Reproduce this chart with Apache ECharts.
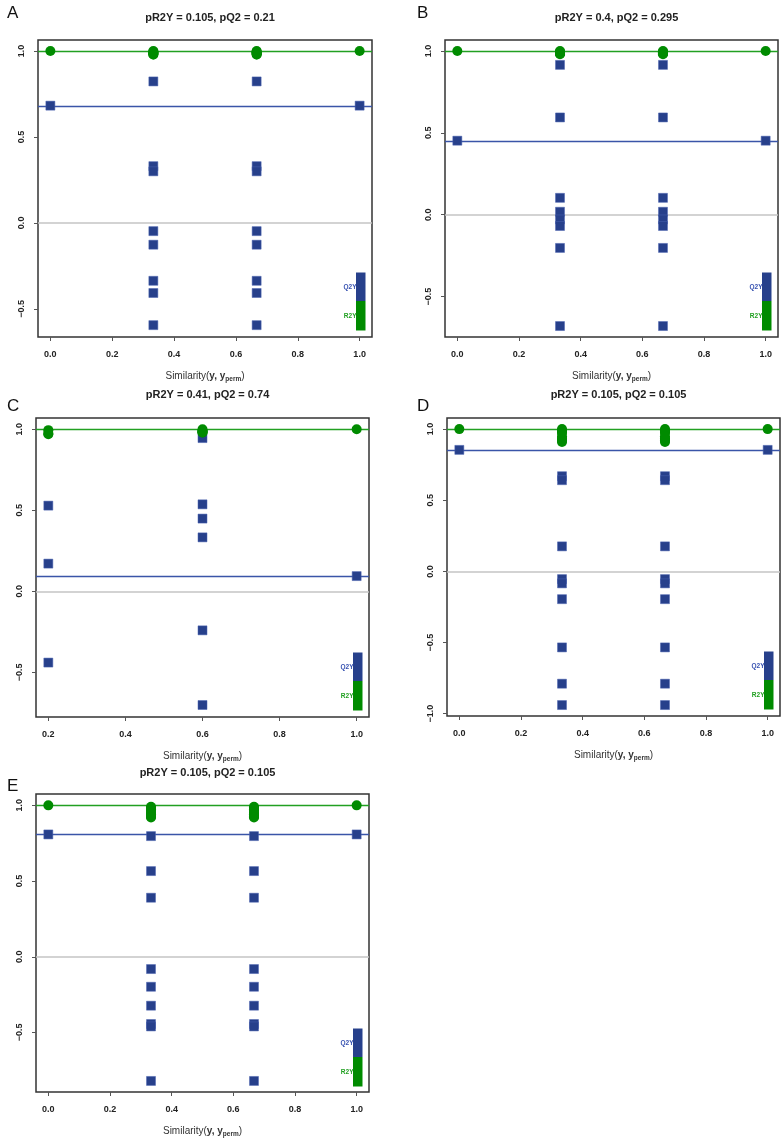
<!DOCTYPE html>
<html><head><meta charset="utf-8">
<script src="https://cdn.jsdelivr.net/npm/echarts@6/dist/echarts.min.js"></script>
<style>html,body{margin:0;padding:0;background:#fff}#c{width:783px;height:1139px}</style>
</head><body><div id="c"></div>
<script>
// ---------- data ----------
const panelLetters = ['A', 'B', 'C', 'D', 'E'];
const titles = ['pR2Y = 0.105, pQ2 = 0.21', 'pR2Y = 0.4, pQ2 = 0.295', 'pR2Y = 0.41, pQ2 = 0.74',
                'pR2Y = 0.105, pQ2 = 0.105', 'pR2Y = 0.105, pQ2 = 0.105'];

// Panel A (first element = original model)
const simA = [1, 0, 0.333, 0.333, 0.333, 0.333, 0.333, 0.333, 0.333, 0.333, 0.667, 0.667, 0.667, 0.667, 0.667, 0.667, 0.667, 0.667];
const r2yA = [1.0, 1.0, 0.99, 0.98, 0.995, 0.985, 0.99, 1.0, 0.98, 0.99, 0.99, 0.98, 0.995, 0.985, 0.99, 1.0, 0.98, 0.99];
const q2yA = [0.682, 0.682, 0.823, 0.33, 0.30, -0.048, -0.127, -0.337, -0.408, -0.595, 0.823, 0.33, 0.30, -0.048, -0.127, -0.337, -0.408, -0.595];

// Panel B
const simB = [1, 0, 0.333, 0.333, 0.333, 0.333, 0.333, 0.333, 0.333, 0.333, 0.667, 0.667, 0.667, 0.667, 0.667, 0.667, 0.667, 0.667];
const r2yB = [1.0, 1.0, 0.99, 0.985, 0.995, 0.99, 0.98, 0.99, 1.0, 0.985, 0.99, 0.985, 0.995, 0.99, 0.98, 0.99, 1.0, 0.985];
const q2yB = [0.452, 0.452, 0.915, 0.594, 0.103, 0.018, -0.029, -0.069, -0.203, -0.68, 0.915, 0.594, 0.103, 0.018, -0.029, -0.069, -0.203, -0.68];

// Panel C
const simC = [1, 0.2, 0.2, 0.2, 0.6, 0.6, 0.6, 0.6, 0.6, 0.6];
const r2yC = [1.0, 0.995, 0.975, 0.97, 1.0, 0.99, 0.98, 0.985, 0.99, 0.98];
const q2yC = [0.094, 0.529, 0.171, -0.44, 0.946, 0.537, 0.449, 0.333, -0.241, -0.702];

// Panel D
const simD = [1, 0, 0.333, 0.333, 0.333, 0.333, 0.333, 0.333, 0.333, 0.333, 0.333, 0.667, 0.667, 0.667, 0.667, 0.667, 0.667, 0.667, 0.667, 0.667];
const r2yD = [1.0, 1.0, 1.0, 0.98, 0.934, 0.91, 0.99, 0.93, 0.92, 0.975, 0.95, 1.0, 0.98, 0.934, 0.91, 0.99, 0.93, 0.92, 0.975, 0.95];
const q2yD = [0.854, 0.854, 0.669, 0.641, 0.176, -0.054, -0.084, -0.195, -0.534, -0.789, -0.939, 0.669, 0.641, 0.176, -0.054, -0.084, -0.195, -0.534, -0.789, -0.939];

// Panel E
const simE = [1, 0, 0.333, 0.333, 0.333, 0.333, 0.333, 0.333, 0.333, 0.333, 0.333, 0.667, 0.667, 0.667, 0.667, 0.667, 0.667, 0.667, 0.667, 0.667];
const r2yE = [1.0, 1.0, 0.986, 0.964, 0.942, 0.927, 0.99, 0.95, 0.93, 0.975, 0.92, 0.986, 0.964, 0.942, 0.927, 0.99, 0.95, 0.93, 0.975, 0.92];
const q2yE = [0.808, 0.808, 0.797, 0.566, 0.39, -0.081, -0.198, -0.323, -0.444, -0.46, -0.82, 0.797, 0.566, 0.39, -0.081, -0.198, -0.323, -0.444, -0.46, -0.82];

// tick labels
const xTicks01 = [0, 0.2, 0.4, 0.6, 0.8, 1.0];
const xTicksC = [0.2, 0.4, 0.6, 0.8, 1.0];
const yTicks = [-0.5, 0, 0.5, 1.0];
const yTicksD = [-1.0, -0.5, 0, 0.5, 1.0];
const legendLabels = ['Q2Y', 'R2Y'];

// ---------- layout ----------
const FONT = 'Liberation Sans, Arial, Helvetica, sans-serif';
const GREEN = '#008B00', GREEN_LINE = '#22a022', BLUE = '#27408B', BLUE_LINE = '#3a55a8';
const panels = [
  {sim: simA, r2y: r2yA, q2y: q2yA, xt: xTicks01, yt: yTicks, xr: [-0.04, 1.04], yr: [-0.664, 1.064], g: [38, 40, 334, 297], ty: 7, ly: 0},
  {sim: simB, r2y: r2yB, q2y: q2yB, xt: xTicks01, yt: yTicks, xr: [-0.04, 1.04], yr: [-0.747, 1.067], g: [445, 40, 333, 297], ty: 7, ly: 0},
  {sim: simC, r2y: r2yC, q2y: q2yC, xt: xTicksC, yt: yTicks, xr: [0.168, 1.032], yr: [-0.776, 1.07], g: [36, 418, 333, 299], ty: 384, ly: 393},
  {sim: simD, r2y: r2yD, q2y: q2yD, xt: xTicks01, yt: yTicksD, xr: [-0.04, 1.04], yr: [-1.016, 1.078], g: [447, 418, 333, 298], ty: 384, ly: 393},
  {sim: simE, r2y: r2yE, q2y: q2yE, xt: xTicks01, yt: yTicks, xr: [-0.04, 1.04], yr: [-0.893, 1.075], g: [36, 794, 333, 299], ty: 762, ly: 773}
];
const letterX = [2, 412, 2, 412, 2];

const fmt = v => (v < 0 ? '\u2212' : '') + Math.abs(v).toFixed(1);

const option = {
  animation: false,
  backgroundColor: '#fff',
  title: [], grid: [], xAxis: [], yAxis: [], series: [], graphic: []
};

panels.forEach((p, i) => {
  const [gl, gt, gw, gh] = p.g;
  option.grid.push({left: gl, top: gt, width: gw, height: gh, show: true, borderColor: '#333', borderWidth: 1.5, backgroundColor: 'transparent', containLabel: false});
  option.title.push({text: titles[i], left: gl + gw / 2, top: p.ty, textAlign: 'center',
    textStyle: {fontFamily: FONT, fontSize: 11, fontWeight: 'bold', color: '#222'}});
  option.title.push({text: panelLetters[i], left: letterX[i], top: p.ly, textStyle: {fontFamily: FONT, fontSize: 17, fontWeight: 'normal', color: '#111'}});
  option.xAxis.push({
    type: 'value', gridIndex: i, min: p.xr[0], max: p.xr[1], position: 'bottom',
    axisLine: {show: false, onZero: false}, splitLine: {show: false},
    axisTick: {show: true, inside: false, length: 4, customValues: p.xt, lineStyle: {color: '#555', width: 1}},
    axisLabel: {customValues: p.xt, formatter: fmt, margin: 13, fontFamily: FONT, fontSize: 9, fontWeight: 'bold', color: '#222'},
    name: '{n|Similarity(}{b|y, y}{s|perm}{n|)}', nameLocation: 'middle', nameGap: 32,
    nameTextStyle: {rich: {
      n: {fontFamily: FONT, fontSize: 10, color: '#333', lineHeight: 14, verticalAlign: 'middle'},
      b: {fontFamily: FONT, fontSize: 10, fontWeight: 'bold', color: '#333', lineHeight: 14, verticalAlign: 'middle'},
      s: {fontFamily: FONT, fontSize: 6.5, fontWeight: 'bold', color: '#333', lineHeight: 7, verticalAlign: 'bottom'}
    }}
  });
  option.yAxis.push({
    type: 'value', gridIndex: i, min: p.yr[0], max: p.yr[1], position: 'left',
    axisLine: {show: false, onZero: false}, splitLine: {show: false},
    axisTick: {show: true, inside: false, length: 4, customValues: p.yt, lineStyle: {color: '#555', width: 1}},
    axisLabel: {customValues: p.yt, formatter: fmt, rotate: 90, margin: 12, fontFamily: FONT, fontSize: 9, fontWeight: 'bold', color: '#222'}
  });
  const q2 = p.sim.map((s, k) => [s, p.q2y[k]]);
  const r2 = p.sim.map((s, k) => [s, p.r2y[k]]);
  option.series.push({
    type: 'scatter', xAxisIndex: i, yAxisIndex: i, data: q2, symbol: 'rect', symbolSize: 9,
    itemStyle: {color: BLUE, opacity: 1, borderColor: '#4a63b0', borderWidth: 0.5}, z: 3, silent: true,
    markLine: {silent: true, symbol: 'none', label: {show: false}, z: 1,
      data: [
        {yAxis: 0, lineStyle: {color: '#c4c4c4', width: 1.5, type: 'solid', opacity: 1}},
        {yAxis: p.q2y[0], lineStyle: {color: BLUE_LINE, width: 1.3, type: 'solid', opacity: 1}}
      ]}
  });
  option.series.push({
    type: 'scatter', xAxisIndex: i, yAxisIndex: i, data: r2, symbol: 'circle', symbolSize: 10,
    itemStyle: {color: GREEN, opacity: 1}, z: 4, silent: true,
    markLine: {silent: true, symbol: 'none', label: {show: false}, z: 2,
      data: [{yAxis: p.r2y[0], lineStyle: {color: GREEN_LINE, width: 1.3, type: 'solid', opacity: 1}}]}
  });
  // legend (bottom-right, inside the box)
  const rx = gl + gw - 6.5 - 9.5, bot = gt + gh - 6.5, mid = gt + gh - 36, top = gt + gh - 64.5;
  option.graphic.push(
    {type: 'rect', shape: {x: rx, y: top, width: 9.5, height: mid - top}, style: {fill: BLUE}, z: 10},
    {type: 'rect', shape: {x: rx, y: mid, width: 9.5, height: bot - mid}, style: {fill: GREEN}, z: 10},
    {type: 'text', x: rx + 0.5, y: (top + mid) / 2, style: {text: legendLabels[0], fill: '#3550b0', font: 'bold 6.5px ' + FONT, textAlign: 'right', textVerticalAlign: 'middle'}, z: 10},
    {type: 'text', x: rx + 0.5, y: (mid + bot) / 2, style: {text: legendLabels[1], fill: '#22a022', font: 'bold 6.5px ' + FONT, textAlign: 'right', textVerticalAlign: 'middle'}, z: 10}
  );
});

const chart = echarts.init(document.getElementById('c'), null, {renderer: 'canvas'});
chart.setOption(option);
</script>
</body></html>
